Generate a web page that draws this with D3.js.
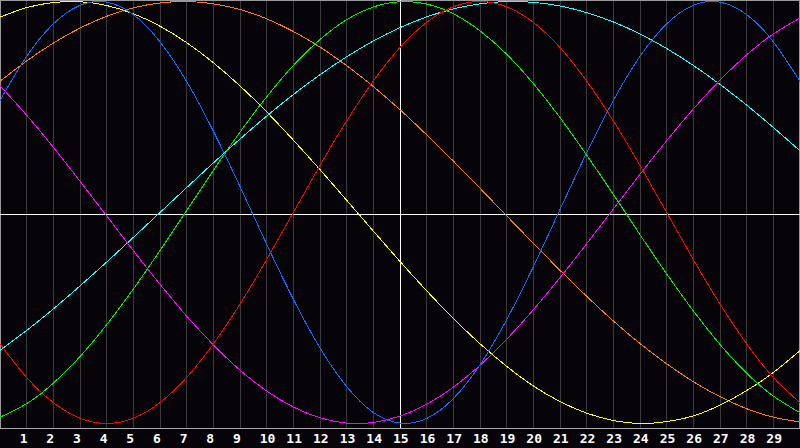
<!DOCTYPE html>
<html>
<head>
<meta charset="utf-8">
<script src="https://cdn.jsdelivr.net/npm/d3@7"></script>
<style>
  html, body { margin: 0; padding: 0; background: #060409; }
  svg { display: block; }
</style>
</head>
<body>
<div id="chart"></div>
<script>
// day positions (0 .. 30) and the tick labels under the grid
const days = [0, 1, 2, 3, 4, 5, 6, 7, 8, 9, 10, 11, 12, 13, 14, 15,
              16, 17, 18, 19, 20, 21, 22, 23, 24, 25, 26, 27, 28, 29, 30];
const tickDays = [1, 2, 3, 4, 5, 6, 7, 8, 9, 10, 11, 12, 13, 14, 15,
                  16, 17, 18, 19, 20, 21, 22, 23, 24, 25, 26, 27, 28, 29];
const todayDay = 15;

// cycle values, one per day (-1 .. 1)
const physical = [0.531, 0.740, 0.894, 0.982, 0.997, 0.938, 0.809, 0.621, 0.386, 0.123,
  -0.150, -0.411, -0.642, -0.825, -0.948, -0.998, -0.976, -0.882, -0.722, -0.508,
  -0.257, 0.014, 0.283, 0.531, 0.740, 0.894, 0.982, 0.997, 0.938, 0.809, 0.621];
const emotional = [-0.623, -0.782, -0.901, -0.975, -1.000, -0.975, -0.901, -0.782, -0.623, -0.434,
  -0.223, 0.000, 0.223, 0.434, 0.623, 0.782, 0.901, 0.975, 1.000, 0.975,
  0.901, 0.782, 0.623, 0.434, 0.223, 0.000, -0.223, -0.434, -0.623, -0.782, -0.901];
const intellectual = [-0.970, -0.906, -0.809, -0.683, -0.532, -0.363, -0.180, 0.009, 0.199, 0.381,
  0.548, 0.697, 0.820, 0.914, 0.974, 0.999, 0.988, 0.942, 0.861, 0.750,
  0.611, 0.450, 0.272, 0.086, -0.105, -0.291, -0.466, -0.625, -0.762, -0.870, -0.949];
const intuitive = [0.601, 0.461, 0.309, 0.148, -0.016, -0.181, -0.340, -0.491, -0.627, -0.747,
  -0.846, -0.922, -0.973, -0.998, -0.995, -0.965, -0.909, -0.828, -0.724, -0.601,
  -0.461, -0.309, -0.148, 0.016, 0.181, 0.340, 0.491, 0.627, 0.747, 0.846, 0.922];
const aesthetic = [0.926, 0.971, 0.995, 0.999, 0.981, 0.942, 0.883, 0.805, 0.710, 0.600,
  0.477, 0.343, 0.203, 0.058, -0.088, -0.232, -0.371, -0.502, -0.622, -0.729,
  -0.822, -0.896, -0.951, -0.986, -1.000, -0.991, -0.964, -0.913, -0.844, -0.758, -0.655];
const awareness = [0.622, 0.718, 0.803, 0.874, 0.930, 0.970, 0.993, 1.000, 0.989, 0.962,
  0.918, 0.858, 0.784, 0.696, 0.597, 0.487, 0.368, 0.244, 0.115, -0.016,
  -0.146, -0.274, -0.397, -0.514, -0.621, -0.717, -0.802, -0.873, -0.930, -0.970, -0.993];
const spiritual = [-0.653, -0.559, -0.457, -0.348, -0.235, -0.118, 0.000, 0.118, 0.235, 0.348,
  0.457, 0.559, 0.653, 0.738, 0.813, 0.876, 0.927, 0.965, 0.989, 1.000,
  0.996, 0.979, 0.947, 0.903, 0.846, 0.777, 0.697, 0.607, 0.509, 0.403, 0.292];

const seriesNames = ["spiritual", "awareness", "aesthetic", "intuitive", "intellectual", "emotional", "physical"];
const seriesValues = [spiritual, awareness, aesthetic, intuitive, intellectual, emotional, physical];
const seriesColors = ["#22ffff", "#ff7f00", "#ffff00", "#ff00ff", "#00ee00", "#ff0000", "#1469ff"];

// -----------------------------
// layout
// -----------------------------
const width = 800;
const height = 448;
const plotHeight = 428;

const svg = d3.select("#chart")
    .append("svg")
    .attr("width", width)
    .attr("height", height);

svg.append("rect")
    .attr("width", width)
    .attr("height", height)
    .attr("fill", "#060409");

const x = d3.scaleLinear().domain([0, 30]).range([0, width]);
const y = d3.scaleLinear().domain([-1, 1]).range([423.5, 1.5]);

// pixel snap for 1px lines
const snap = v => Math.floor(v) + 0.5;

// --- vertical day grid ---
svg.append("g")
    .selectAll("line")
    .data(tickDays)
    .join("line")
    .attr("x1", d => snap(x(d)))
    .attr("x2", d => snap(x(d)))
    .attr("y1", 0)
    .attr("y2", plotHeight)
    .attr("stroke", "#3a3a3a")
    .attr("shape-rendering", "crispEdges");

// --- border + axis line ---
svg.append("rect")
    .attr("x", 0.5)
    .attr("y", 0.5)
    .attr("width", width - 1)
    .attr("height", plotHeight - 0.5)
    .attr("fill", "none")
    .attr("stroke", "#9a9a9a")
    .attr("shape-rendering", "crispEdges");

svg.append("line")
    .attr("x1", 0)
    .attr("x2", width)
    .attr("y1", plotHeight + 0.5)
    .attr("y2", plotHeight + 0.5)
    .attr("stroke", "#a8a8a8")
    .attr("shape-rendering", "crispEdges");

// --- midline and today marker ---
svg.append("line")
    .attr("x1", 0)
    .attr("x2", width)
    .attr("y1", plotHeight / 2 + 0.5)
    .attr("y2", plotHeight / 2 + 0.5)
    .attr("stroke", "#ffffff")
    .attr("shape-rendering", "crispEdges");

svg.append("line")
    .attr("x1", snap(x(todayDay)))
    .attr("x2", snap(x(todayDay)))
    .attr("y1", 0)
    .attr("y2", plotHeight)
    .attr("stroke", "#ffffff")
    .attr("shape-rendering", "crispEdges");

// --- cycle curves ---
const line = d3.line()
    .x((d, i) => x(days[i]))
    .y(d => y(d))
    .curve(d3.curveNatural);

svg.append("g")
    .selectAll("path")
    .data(seriesValues)
    .join("path")
    .attr("class", (d, i) => seriesNames[i])
    .attr("d", line)
    .attr("fill", "none")
    .attr("stroke", (d, i) => seriesColors[i])
    .attr("stroke-width", 1)
    .attr("shape-rendering", "crispEdges");

// --- day labels ---
svg.append("g")
    .selectAll("text")
    .data(tickDays)
    .join("text")
    .attr("x", d => x(d) - 7)
    .attr("y", 443)
    .attr("fill", "#ffffff")
    .style("font-family", "'DejaVu Sans Mono', monospace")
    .style("font-weight", "bold")
    .style("font-size", "13px")
    .text(d => d);
</script>
</body>
</html>
